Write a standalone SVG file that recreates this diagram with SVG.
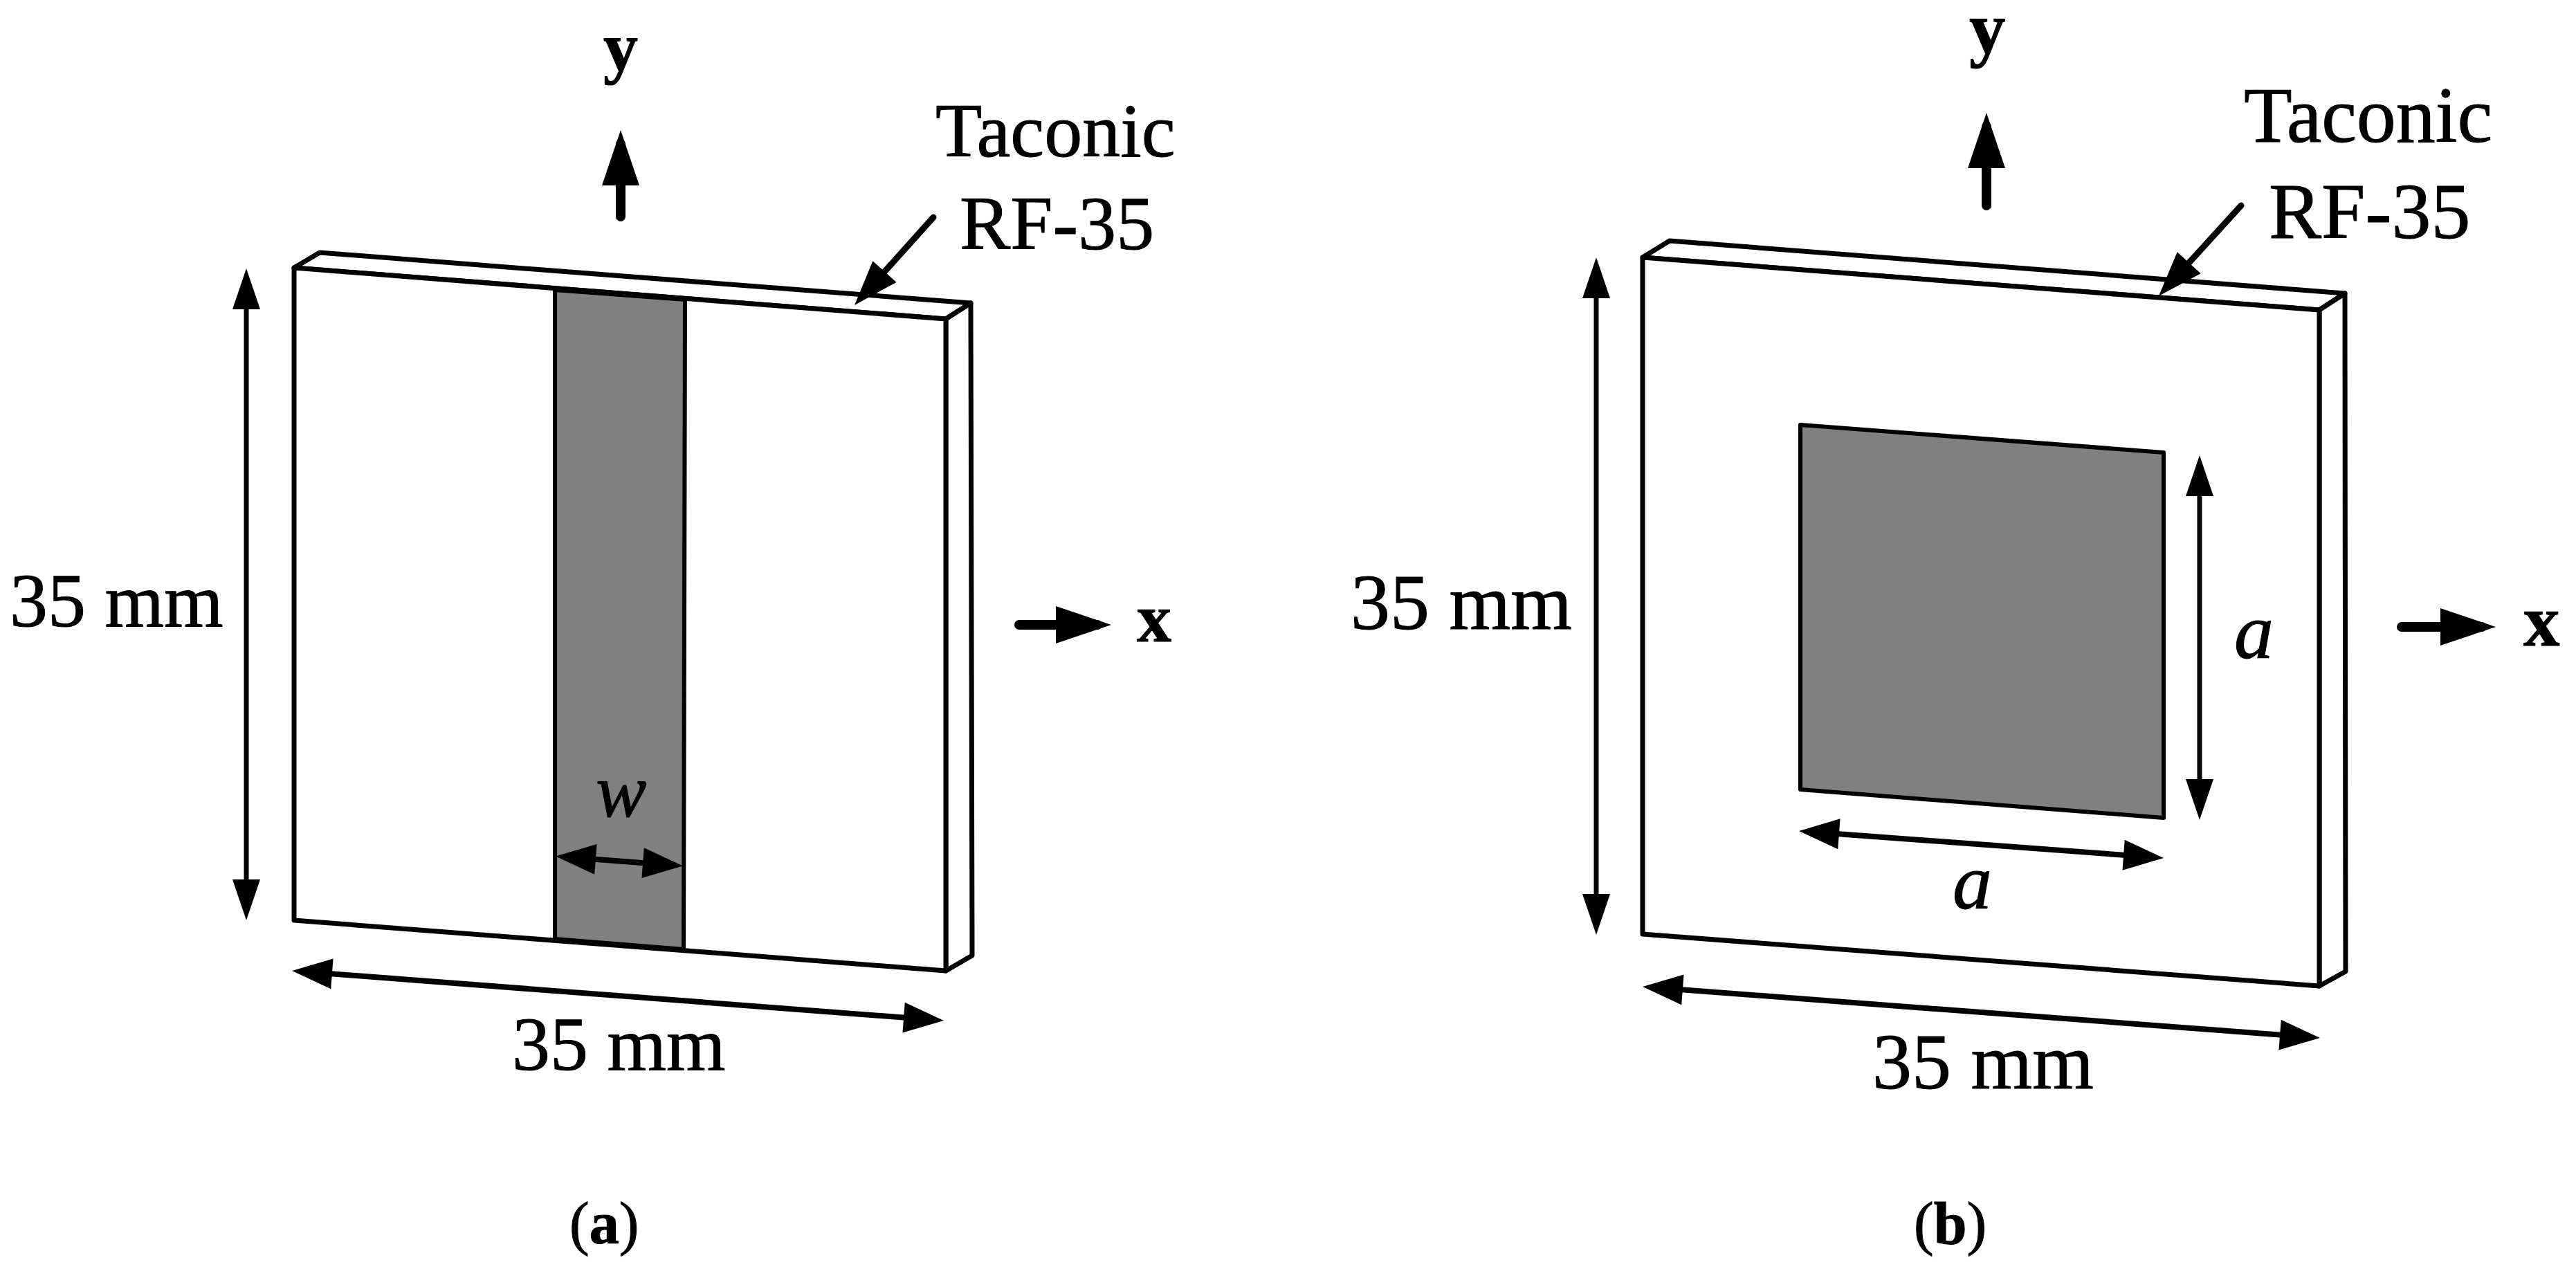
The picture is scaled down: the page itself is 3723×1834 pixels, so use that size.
<svg xmlns="http://www.w3.org/2000/svg" width="3723" height="1834" viewBox="0 0 3723 1834">
<style>
text{font-family:"Liberation Serif","Times New Roman",serif;fill:#000;stroke:#000;stroke-width:1;font-size:110px}
.lg{font-size:114px}
.b{font-weight:700;font-size:100px}
.bl{font-weight:700;font-size:105px}
.i{font-style:italic}
.cap{font-size:86px}
.cap tspan{font-weight:700}
.edge{fill:#fff;stroke:#000;stroke-width:7;stroke-linejoin:round}
.patch{fill:#808080;stroke:#000;stroke-width:6;stroke-linejoin:round}
.dim{fill:none;stroke:#000;stroke-width:7;marker-start:url(#h);marker-end:url(#h)}
.dim2{fill:none;stroke:#000;stroke-width:8;marker-start:url(#h2);marker-end:url(#h2)}
.axis{fill:none;stroke:#000;stroke-width:14;stroke-linecap:round;marker-end:url(#big)}
.lead{fill:none;stroke:#000;stroke-width:9;stroke-linecap:round;marker-end:url(#mid)}
</style>
<defs>
<marker id="h" markerUnits="userSpaceOnUse" markerWidth="60" markerHeight="44" viewBox="0 -22 59 44" refX="39" refY="0" orient="auto-start-reverse"><path d="M0-20L59 0L0 20z"/></marker>
<marker id="h2" markerUnits="userSpaceOnUse" markerWidth="60" markerHeight="48" viewBox="0 -24 58 48" refX="38" refY="0" orient="auto-start-reverse"><path d="M0-22L58 0L0 22z"/></marker>
<marker id="big" markerUnits="userSpaceOnUse" markerWidth="82" markerHeight="58" viewBox="0 -29 80 58" refX="60" refY="0" orient="auto"><path d="M0-27L80 0L0 27z"/></marker>
<marker id="mid" markerUnits="userSpaceOnUse" markerWidth="66" markerHeight="50" viewBox="0 -25 65 50" refX="45" refY="0" orient="auto"><path d="M0-23L65 0L0 23z"/></marker>
</defs>
<rect width="3723" height="1834" fill="#fff"/>
<g id="substrate-a">
<path class="edge" d="M425 387L462 365L1403 438L1367 461z"/>
<path class="edge" d="M1367 461L1403 438L1405 1381L1367 1403z"/>
<path class="edge" d="M425 387L1367 461L1367 1403L425 1330z"/>
</g>
<g id="strip-a"><path class="patch" d="M802 419L990 433L988 1372L802 1357z"/></g>
<g id="substrate-b">
<path class="edge" d="M2374 372L2413 348L3389 424L3352 448z"/>
<path class="edge" d="M3352 448L3389 424L3390 1404L3352 1425z"/>
<path class="edge" d="M2374 372L3352 448L3352 1425L2374 1350z"/>
</g>
<g id="patch-b"><path class="patch" d="M2602 614L3127 654L3127 1182L2602 1141z"/></g>
<g id="connectors">
<path class="dim" d="M356 408V1310"/>
<path class="dim2" d="M442 1404.5L1344 1473.5"/>
<path class="dim2" d="M823 1239L967 1250"/>
<path class="axis" d="M897 313V208"/>
<path class="axis" d="M1473 903H1586"/>
<path class="lead" d="M1349 314L1248.4 426"/>
<path class="dim" d="M2307 392V1331"/>
<path class="dim" d="M3179 678V1165"/>
<path class="dim2" d="M2620 1202.5L3107 1238.5"/>
<path class="dim2" d="M2394 1427.5L3333 1498.5"/>
<path class="axis" d="M2871 297V183"/>
<path class="axis" d="M3471 906H3587"/>
<path class="lead" d="M3239 297L3133.4 413"/>
</g>
<g id="labels-a">
<text class="b" x="872" y="102">y</text>
<text x="1352" y="226">Taconic</text>
<text x="1387" y="360">RF-35</text>
<text x="14" y="905">35 mm</text>
<text class="b" x="1643" y="927">x</text>
<text class="i" x="861" y="1180">w</text>
<text x="740" y="1546">35 mm</text>
<text class="cap" x="823" y="1797">(<tspan>a</tspan>)</text>
</g>
<g id="labels-b">
<text class="bl" x="2846" y="76">y</text>
<text class="lg" x="3243" y="205">Taconic</text>
<text class="lg" x="3279" y="344">RF-35</text>
<text class="lg" x="1952" y="909">35 mm</text>
<text class="bl" x="3647" y="933">x</text>
<text class="i lg" x="3229" y="951">a</text>
<text class="i lg" x="2822" y="1313">a</text>
<text class="lg" x="2706" y="1573">35 mm</text>
<text class="cap" x="2766" y="1797">(<tspan>b</tspan>)</text>
</g>
</svg>
